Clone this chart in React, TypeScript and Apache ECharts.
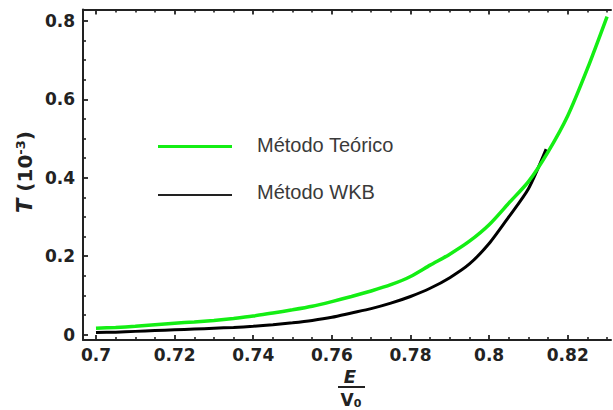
import React, { useEffect, useRef } from "react";
import * as echarts from "echarts";

// E / V0 sample points
const energyTeorico = [0.700,0.705,0.710,0.715,0.720,0.725,0.730,0.735,0.740,0.745,0.750,0.755,0.760,0.765,0.770,0.775,0.780,0.785,0.790,0.795,0.800,0.805,0.810,0.815,0.820,0.825,0.830];
const tTeorico = [0.016,0.018,0.021,0.025,0.029,0.032,0.036,0.041,0.047,0.055,0.063,0.072,0.084,0.097,0.111,0.127,0.148,0.177,0.205,0.238,0.280,0.335,0.390,0.466,0.558,0.678,0.811];
const energyWKB = [0.700,0.705,0.710,0.715,0.720,0.725,0.730,0.735,0.740,0.745,0.750,0.755,0.760,0.765,0.770,0.775,0.780,0.785,0.790,0.795,0.800,0.805,0.810,0.8145];
const tWKB = [0.005,0.006,0.008,0.010,0.012,0.014,0.016,0.018,0.021,0.025,0.030,0.036,0.044,0.055,0.066,0.080,0.097,0.118,0.145,0.180,0.232,0.300,0.372,0.473];

const xMajorTicks = [0.7, 0.72, 0.74, 0.76, 0.78, 0.8, 0.82];
const xMinorTicks = [0.705,0.71,0.715,0.725,0.73,0.735,0.745,0.75,0.755,0.765,0.77,0.775,0.785,0.79,0.795,0.805,0.81,0.815,0.825,0.83];
const yMajorTicks = [0, 0.2, 0.4, 0.6, 0.8];
const yMinorTicks = [0.05,0.1,0.15,0.25,0.3,0.35,0.45,0.5,0.55,0.65,0.7,0.75];

const seriesNames = ["Método Teórico", "Método WKB"];

const AXIS_COLOR = "#222";
const GREEN = "#14ee14";
const X_MIN = 0.6967, X_MAX = 0.831;
const Y_MIN = -0.014, Y_MAX = 0.829;
const GRID_TOP = 9.5, GRID_BOTTOM = 70, CHART_H = 410;

const fmt = (v: number) => String(+(+v).toFixed(3));

export default function App() {
  const ref = useRef<HTMLDivElement>(null);
  useEffect(() => {
    document.body.style.margin = "0";
    const chart = echarts.init(ref.current!, null, { renderer: "svg" });
    const labelFont = { fontSize: 17, fontWeight: "bold" as const, fontFamily: "DejaVu Sans", color: AXIS_COLOR };
    const tickLine = (len: number, width: number, inside = true) => ({ show: true, inside, length: len, lineStyle: { color: AXIS_COLOR, width } });
    const gridH = CHART_H - GRID_TOP - GRID_BOTTOM;

    const xAxisBase = (pos: "bottom" | "top") => ({
      type: "value", position: pos, min: X_MIN, max: X_MAX,
      splitLine: { show: false },
    });
    const yAxisBase = () => ({
      type: "value", position: "left", min: Y_MIN, max: Y_MAX,
      splitLine: { show: false },
    });

    chart.setOption({
      animation: false,
      grid: { left: 83, right: 2, top: GRID_TOP, bottom: GRID_BOTTOM, containLabel: false, outerBoundsMode: "none" },
      xAxis: [
        {
          ...xAxisBase("bottom"),
          axisLine: { show: true, onZero: false, lineStyle: { color: AXIS_COLOR, width: 2 } },
          axisTick: { show: false },
          axisLabel: { show: true, customValues: xMajorTicks, formatter: fmt, margin: 6, ...labelFont },
        },
        {
          ...xAxisBase("top"),
          axisLine: { show: true, onZero: false, lineStyle: { color: AXIS_COLOR, width: 2 } },
          axisTick: { ...tickLine(5, 1.8), customValues: xMajorTicks },
          axisLabel: { show: false },
        },
        {
          ...xAxisBase("top"),
          axisLine: { show: false, onZero: false },
          axisTick: { ...tickLine(3, 1.6), customValues: xMinorTicks },
          axisLabel: { show: false },
        },
        {
          // top-type axes moved down to the bottom edge: outward ticks point up into the plot
          ...xAxisBase("top"), offset: -gridH,
          axisLine: { show: false, onZero: false },
          axisTick: { ...tickLine(5, 1.8, false), customValues: xMajorTicks },
          axisLabel: { show: false },
        },
        {
          ...xAxisBase("top"), offset: -gridH,
          axisLine: { show: false, onZero: false },
          axisTick: { ...tickLine(3, 1.6, false), customValues: xMinorTicks },
          axisLabel: { show: false },
        },
      ],
      yAxis: [
        {
          ...yAxisBase(),
          axisLine: { show: true, onZero: false, lineStyle: { color: AXIS_COLOR, width: 2 } },
          axisTick: { ...tickLine(5, 1.8), customValues: yMajorTicks },
          axisLabel: { show: true, customValues: yMajorTicks, formatter: fmt, margin: 8, ...labelFont },
        },
        {
          ...yAxisBase(),
          axisLine: { show: false, onZero: false },
          axisTick: { ...tickLine(3, 1.6), customValues: yMinorTicks },
          axisLabel: { show: false },
        },
      ],
      series: [
        {
          name: seriesNames[0], type: "line", xAxisIndex: 0, yAxisIndex: 0,
          data: energyTeorico.map((x, i) => [x, tTeorico[i]]),
          showSymbol: false, smooth: 0.25, lineStyle: { color: GREEN, width: 3.5 }, z: 3,
        },
        {
          name: seriesNames[1], type: "line", xAxisIndex: 0, yAxisIndex: 0,
          data: energyWKB.map((x, i) => [x, tWKB[i]]),
          showSymbol: false, smooth: 0.25, lineStyle: { color: "#000", width: 3 }, z: 2,
        },
      ],
      graphic: [
        { type: "line", shape: { x1: 158, y1: 146.5, x2: 232, y2: 146.5 }, style: { stroke: GREEN, lineWidth: 3 } },
        { type: "text", x: 257, y: 145, style: { text: seriesNames[0], fontSize: 20, fontFamily: "Liberation Sans", fill: "#3a3a3a", textVerticalAlign: "middle" } },
        { type: "line", shape: { x1: 158, y1: 195, x2: 232, y2: 195 }, style: { stroke: "#222", lineWidth: 2 } },
        { type: "text", x: 257, y: 192, style: { text: seriesNames[1], fontSize: 20, fontFamily: "Liberation Sans", fill: "#3a3a3a", textVerticalAlign: "middle" } },
        {
          type: "text", x: 25, y: 172, rotation: Math.PI / 2,
          style: {
            text: "{i|T} (10{sup|-3})",
            fontSize: 20, fontWeight: "bold", fontFamily: "DejaVu Sans", fill: AXIS_COLOR,
            textAlign: "center", textVerticalAlign: "middle",
            rich: {
              i: { fontStyle: "italic", fontSize: 21, fontWeight: "bold", fontFamily: "DejaVu Sans" },
              sup: { fontSize: 13, fontWeight: "bold", fontFamily: "DejaVu Sans", verticalAlign: "top", padding: [0, 0, 9, 0] },
            },
          },
        },
        { type: "text", x: 350, y: 376, style: { text: "E", fontSize: 18, fontStyle: "italic", fontWeight: "bold", fontFamily: "DejaVu Sans", fill: AXIS_COLOR, textAlign: "center", textVerticalAlign: "middle" } },
        { type: "line", shape: { x1: 338, y1: 387, x2: 365, y2: 387 }, style: { stroke: AXIS_COLOR, lineWidth: 2 } },
        {
          type: "text", x: 351, y: 400,
          style: {
            text: "V{sub|0}", fontSize: 17, fontWeight: "bold", fontFamily: "DejaVu Sans", fill: AXIS_COLOR,
            textAlign: "center", textVerticalAlign: "middle",
            rich: { sub: { fontSize: 11, fontWeight: "bold", fontFamily: "DejaVu Sans", verticalAlign: "bottom" } },
          },
        },
      ],
    });
    return () => chart.dispose();
  }, []);
  return <div ref={ref} style={{ width: 613, height: 410 }} />;
}
